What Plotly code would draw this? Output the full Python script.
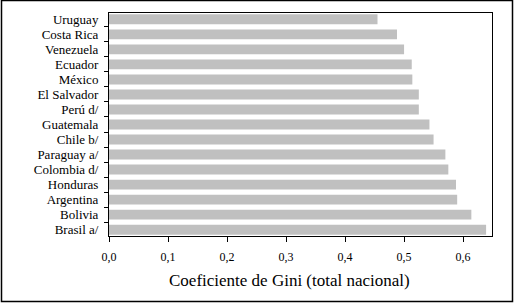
import plotly.graph_objects as go

countries = ["Uruguay", "Costa Rica", "Venezuela", "Ecuador", "México", "El Salvador",
             "Perú d/", "Guatemala", "Chile b/", "Paraguay a/", "Colombia d/",
             "Honduras", "Argentina", "Bolivia", "Brasil a/"]
gini = [0.455, 0.488, 0.500, 0.513, 0.514, 0.525, 0.525, 0.543, 0.550,
        0.570, 0.575, 0.588, 0.590, 0.614, 0.639]
x_ticks = [0.0, 0.1, 0.2, 0.3, 0.4, 0.5, 0.6]
x_title = "Coeficiente de Gini (total nacional)"

W, H = 515, 303
L, R, T, B = 109, 492, 13, 236
serif = "Liberation Serif, Times New Roman, serif"

fig = go.Figure(go.Bar(
    x=gini, y=countries, orientation="h",
    marker=dict(color="#c0c0c0", line=dict(width=0)),
))

n = len(countries)
fig.update_layout(
    width=W, height=H,
    margin=dict(l=L, r=W - R, t=T, b=H - B, pad=0, autoexpand=False),
    paper_bgcolor="white", plot_bgcolor="white",
    separators=", ",
    showlegend=False,
    bargap=0.34,
    font=dict(family=serif, color="black"),
)
fig.update_xaxes(
    range=[0, 0.649], tickmode="array", tickvals=x_ticks, tickformat=".1f",
    ticks="outside", ticklen=5, tickwidth=1, tickcolor="black",
    showline=True, linecolor="black", linewidth=1, mirror=True,
    showgrid=False, zeroline=False, automargin=False,
    tickfont=dict(family=serif, size=12, color="black"),
    ticklabelstandoff=5,
)
fig.update_yaxes(
    type="category", categoryorder="array", categoryarray=countries,
    range=[n - 1 + 0.42, -0.42],
    tickmode="linear", tick0=0, dtick=1,
    tickson="boundaries",
    ticks="outside", ticklen=4, tickwidth=1, tickcolor="black",
    showline=True, linecolor="black", linewidth=1, mirror=True,
    showgrid=False, zeroline=False, automargin=False,
    tickfont=dict(family=serif, size=13, color="black"),
    ticklabelstandoff=7,
)

pw, ph = R - L, B - T
def px_x(p):
    return (p - L) / pw
def px_y(p):
    return (B - p) / ph

fig.add_annotation(
    text=x_title, xref="paper", yref="paper",
    x=px_x(289), y=px_y(280), xanchor="center", yanchor="middle",
    showarrow=False, font=dict(family=serif, size=17, color="black"),
)
fig.add_shape(
    type="rect", xref="paper", yref="paper",
    x0=px_x(1.5), x1=px_x(512.5), y0=px_y(301.5), y1=px_y(0.5),
    line=dict(color="black", width=1.5), fillcolor="rgba(0,0,0,0)", layer="above",
)

fig.write_html(
    "out.html",
    config={"displayModeBar": False, "staticPlot": True},
    post_script="document.body.style.margin='0';document.body.style.overflow='hidden';",
)
